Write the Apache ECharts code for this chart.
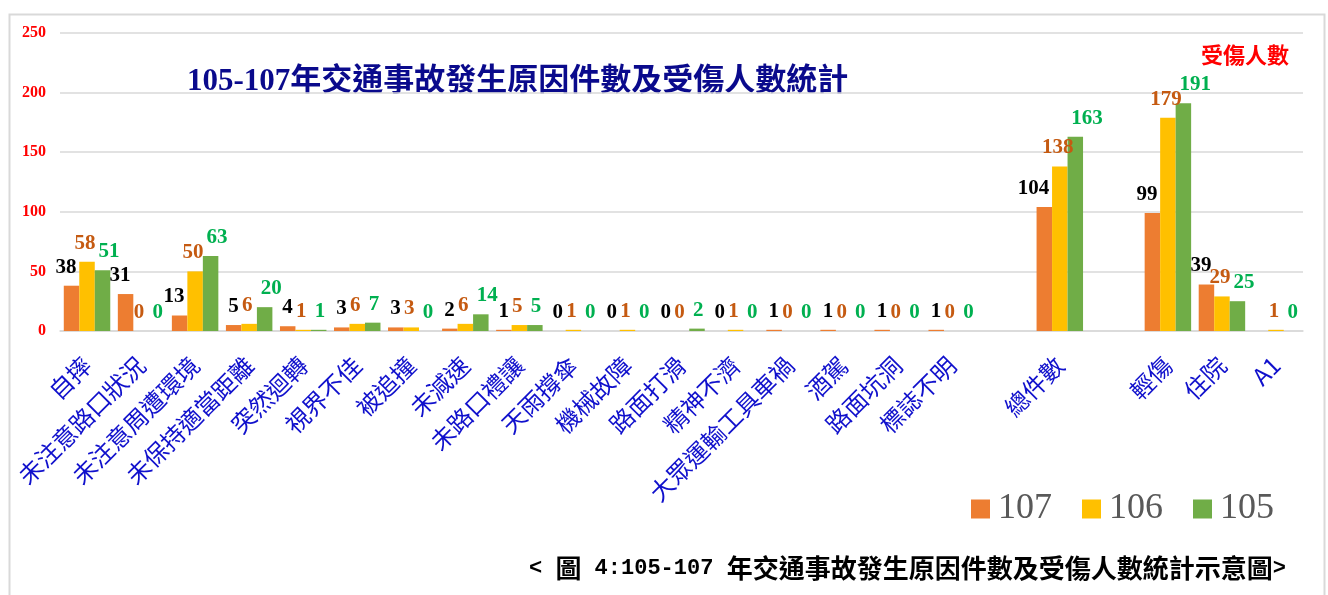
<!DOCTYPE html>
<html>
<head>
<meta charset="utf-8">
<script src="https://cdn.jsdelivr.net/npm/echarts@6/dist/echarts.min.js"></script>
<style>
html,body{margin:0;padding:0;background:#fff;}
#chart{width:1328px;height:595px;}
</style>
</head>
<body>
<div id="chart"></div>
<script>
const categories = ['自摔','未注意路口狀況','未注意周遭環境','未保持適當距離','突然迴轉','視界不佳','被追撞','未減速','未路口禮讓','天雨撐傘','機械故障','路面打滑','精神不濟','大眾運輸工具車禍','酒駕','路面坑洞','標誌不明','','總件數','','輕傷','住院','A1'];
const seriesNames = ['107','106','105'];
const values107 = [38,31,13,5,4,3,3,2,1,0,0,0,0,1,1,1,1,null,104,null,99,39,null];
const values106 = [58,0,50,6,1,6,3,6,5,1,1,0,1,0,0,0,0,null,138,null,179,29,1];
const values105 = [51,0,63,20,1,7,0,14,5,0,0,2,0,0,0,0,0,null,163,null,191,25,0];
const yTicks = {min:0, max:250, interval:50};
const titleText = '105-107年交通事故發生原因件數及受傷人數統計';
const unitText = '受傷人數';
const captionParts = ['< ', '圖', ' 4:105-107 ', '年交通事故發生原因件數及受傷人數統計示意圖', '>'];

const barColors = ['#ED7D31','#FFC000','#70AD47'];
const labelColors = ['#000000','#C55A11','#00B050'];
const labelAlign = ['right','center','left'];
const labelOffset = [[5,0],[-2,0],[-4,0]];
const serif = "'Liberation Serif', 'Noto Sans CJK TC', serif";

const chart = echarts.init(document.getElementById('chart'), null, {renderer:'canvas'});
const allValues = [values107, values106, values105];

const captionRich = captionParts.map((p,i)=>'{' + (i%2===0 ? 'a' : 'b') + '|' + p + '}').join('');

const option = {
  backgroundColor:'#ffffff',
  animation:false,
  grid:{left:60, right:25, top:33, bottom:264, containLabel:false},
  legend:{
    data:seriesNames,
    left:966, top:486,
    icon:'rect', itemWidth:19, itemHeight:19, itemGap:30,
    textStyle:{fontFamily:serif, fontSize:36, color:'#595959', padding:[0,0,0,3]}
  },
  xAxis:{
    type:'category', data:categories,
    axisLine:{lineStyle:{color:'#d9d9d9', width:1.5}},
    axisTick:{show:false},
    axisLabel:{interval:0, rotate:45, margin:30, color:'#1010CC', fontSize:24,
      fontFamily:"'Noto Sans CJK TC', 'Liberation Serif', sans-serif"}
  },
  yAxis:{
    type:'value', min:yTicks.min, max:yTicks.max, interval:yTicks.interval,
    axisLine:{show:false}, axisTick:{show:false},
    splitLine:{lineStyle:{color:'#d9d9d9', width:1.5}},
    axisLabel:{margin:14, color:'#FF0000', fontSize:16, fontWeight:'bold', fontFamily:serif}
  },
  series: seriesNames.map((n,i)=>({
    name:n, type:'bar', data:allValues[i],
    barGap:'0%', barCategoryGap:'14%',
    itemStyle:{color:barColors[i]},
    label:{show:true, position:'top', distance:8, align:labelAlign[i], offset:labelOffset[i],
      color:labelColors[i], fontSize:21, fontWeight:'bold', fontFamily:serif}
  })),
  graphic:[
    {type:'rect', left:7, top:12, silent:true, z:-10,
      shape:{x:0,y:0,width:1315,height:620},
      style:{fill:'none', stroke:'#d9d9d9', lineWidth:2}},
    {type:'text', left:187, top:66,
      style:{text:titleText, fill:'#0A0A8C', fontSize:31, fontWeight:'bold', fontFamily:serif}},
    {type:'text', left:1201, top:44,
      style:{text:unitText, fill:'#FF0000', fontSize:22, fontWeight:'bold', fontFamily:"'Noto Sans CJK TC', sans-serif"}},
    {type:'text', left:529, top:555,
      style:{text:captionRich, fill:'#000000', fontWeight:'bold',
        rich:{
          a:{fontSize:22, fontWeight:'bold', fill:'#000000', fontFamily:"'Liberation Mono', monospace"},
          b:{fontSize:26, fontWeight:'bold', fill:'#000000', fontFamily:"'Noto Sans CJK TC', sans-serif"}
        }}}
  ]
};
chart.setOption(option);
</script>
</body>
</html>
